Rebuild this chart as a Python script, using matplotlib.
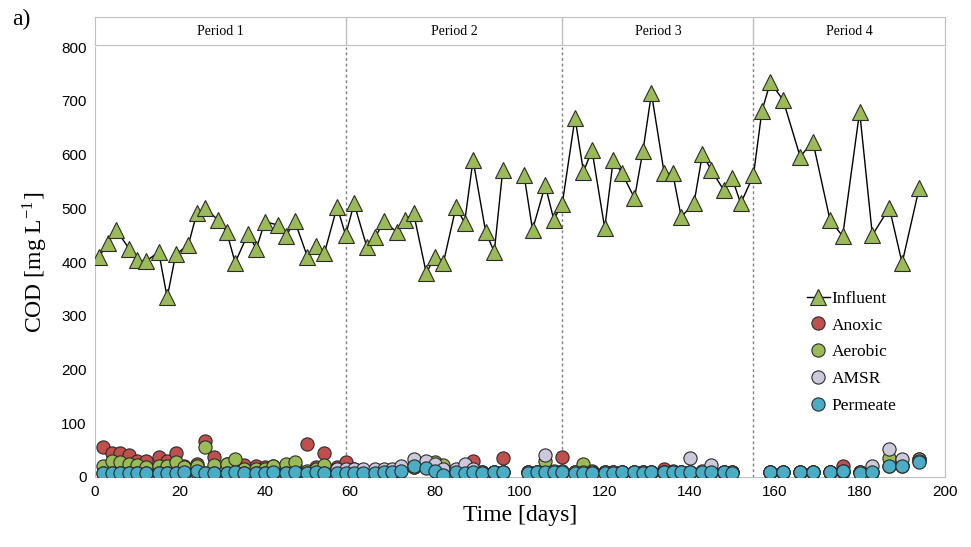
import matplotlib
matplotlib.use("Agg")
import matplotlib.pyplot as plt
import numpy as np

plt.rcParams.update({
    "font.family": "serif",
    "font.serif": ["Liberation Serif", "DejaVu Serif"],
    "mathtext.fontset": "stix",
})

# influent COD (triangles, connected; NaN = gap in line)
inf_days = [1, 3, 5, 8, 10, 12, 15, 17, 19, 22, 24, 26, 29, 31, 33, 36, 38, 40, 43, 45, 47, 50, 52, 54, 57, 59,
            61, 64, 66, 68, 71, 73, 75, 78, 80, 82, 85, 87, 89, 92, 94, 96, 98.5, 101, 103, 106, 108,
            110, 113, 115, 117, 120, 122, 124, 127, 129, 131, 134, 136, 138, 141, 143, 145, 148, 150, 152,
            155, 157, 159, 162, 166, 169, 173, 176, 180, 183, 187, 190, 194]
influent = [410, 435, 460, 425, 404, 401, 419, 334, 414, 432, 492, 500, 478, 456, 399, 452, 425, 475, 469, 448, 477, 410, 430, 416, 503, 450,
            509, 428, 446, 476, 456, 478, 491, 379, 410, 398, 503, 473, 590, 455, 419, 572, np.nan, 562, 460, 543, 479,
            508, 668, 568, 608, 463, 590, 566, 519, 607, 714, 565, 565, 484, 509, 601, 572, 534, 556, 509,
            561, 681, 735, 701, 596, 624, 479, 448, 680, 450, 501, 398, 537]

# low-concentration series share sampling days
low_days = [2, 4, 6, 8, 10, 12, 15, 17, 19, 21, 24, 26, 28, 31, 33, 35, 38, 40, 42, 45, 47, 50, 52, 54, 57, 59,
            61, 63, 66, 68, 70, 72, 75, 78, 80, 82, 85, 87, 89, 91, 94, 96, 102, 104, 106, 108,
            110, 113, 115, 117, 120, 122, 124, 127, 129, 131, 134, 136, 138, 140, 143, 145, 148, 150,
            159, 162, 166, 169, 173, 176, 180, 183, 187, 190, 194]
anoxic = [55, 45, 45, 41, 30, 30, 38, 30, 44, 20, 25, 67, 37, 25, 28, 22, 20, 18, 20, 18, 20, 61, 18, 44, 18, 27,
          15, 12, 12, 10, 10, 15, 18, 18, 15, 10, 10, 10, 30, 10, 10, 35, 10, 10, 10, 10,
          38, 10, 10, 10, 10, 10, 10, 10, 10, 10, 14, 12, 10, 10, 10, 12, 10, 10,
          10, 10, 10, 10, 10, 20, 10, 10, 20, 20, 33]
aerobic = [20, 30, 27, 24, 22, 18, 20, 20, 28, 18, 20, 55, 22, 25, 33, 15, 15, 15, 20, 25, 27, 12, 15, 22, 15, 12,
           10, 10, 12, 10, 10, 15, 18, 18, 28, 22, 12, 10, 10, 10, 10, 10, 10, 10, 30, 10,
           10, 10, 25, 12, 10, 10, 10, 10, 10, 10, 10, 10, 10, 10, 10, 10, 10, 10,
           10, 10, 10, 10, 10, 10, 10, 10, 35, 22, 33]
amsr = [8, 8, 8, 8, 8, 8, 8, 8, 8, 8, 8, 8, 8, 8, 8, 8, 8, 8, 8, 8, 8, 8, 8, 8, 15, 15,
        15, 15, 15, 15, 15, 20, 33, 30, 25, 15, 15, 25, 15, 10, 10, 10, 10, 10, 41, 12,
        12, 10, 10, 10, 10, 10, 10, 10, 10, 10, 10, 10, 10, 35, 12, 22, 10, 10,
        10, 10, 10, 10, 10, 12, 10, 20, 53, 33, 30]
permeate = [8, 8, 8, 7, 7, 7, 8, 8, 8, 9, 11, 8, 8, 8, 9, 8, 8, 7, 9, 8, 9, 8, 9, 8, 8, 8,
            8, 7, 8, 9, 9, 12, 20, 17, 12, 3, 9, 8, 9, 8, 9, 9, 8, 9, 10, 9,
            9, 8, 7, 8, 8, 8, 9, 9, 8, 9, 9, 9, 9, 9, 10, 10, 9, 8,
            9, 9, 9, 9, 9, 12, 7, 9, 20, 20, 28]

period_edges = [0, 59, 110, 155, 200]
period_names = ["Period 1", "Period 2", "Period 3", "Period 4"]

fig = plt.figure(figsize=(9.71, 5.47), dpi=100)
ax = fig.add_axes([0.0978, 0.128, 0.875, 0.786])
hx = fig.add_axes([0.0978, 0.9177, 0.875, 0.0512])

EDGE = "#2b2b2b"
ax.plot(inf_days, influent, color="black", linewidth=1.0, marker="^", markersize=11,
        markerfacecolor="#9bbb59", markeredgecolor=EDGE, markeredgewidth=0.8, label="Influent", zorder=3)
for vals, col, lab in [(anoxic, "#c0504d", "Anoxic"), (aerobic, "#9bbb59", "Aerobic"),
                       (amsr, "#ccc9dc", "AMSR"), (permeate, "#4bacc6", "Permeate")]:
    ax.plot(low_days, vals, linestyle="none", marker="o", markersize=9.5, markerfacecolor=col,
            markeredgecolor=EDGE, markeredgewidth=0.8, label=lab, zorder=4)

for e in period_edges[1:-1]:
    ax.axvline(e, color="#7f7f7f", linestyle=(0, (2, 2)), linewidth=1.0, zorder=1)
    hx.axvline(e, color="#bfbfbf", linewidth=1.0)

for i, name in enumerate(period_names):
    hx.text((period_edges[i] + period_edges[i + 1]) / 2, 0.5, name, ha="center", va="center", fontsize=10)
hx.set_xlim(0, 200)
hx.set_ylim(0, 1)
hx.set_xticks([])
hx.set_yticks([])
for s in hx.spines.values():
    s.set_color("#bfbfbf")

ax.set_xlim(0, 200)
ax.set_ylim(0, 800)
ax.set_xticks(np.arange(0, 201, 20))
ax.set_yticks(np.arange(0, 801, 100))
ax.tick_params(length=0, pad=6)
for lab in ax.get_xticklabels() + ax.get_yticklabels():
    lab.set_family("Liberation Sans")
    lab.set_fontsize(11)
for s in ax.spines.values():
    s.set_color("#bfbfbf")
ax.spines["top"].set_visible(False)

ax.set_xlabel("Time [days]", fontsize=17, labelpad=4)
ax.set_ylabel("COD [mg L$^{\\mathregular{-1}}$]", fontsize=17, labelpad=8)
ax.legend(loc="upper left", bbox_to_anchor=(0.83, 0.45), frameon=False, fontsize=12.5,
          handlelength=1.3, handletextpad=0.1, labelspacing=0.62, borderaxespad=0)
fig.text(0.012, 0.955, "a)", fontsize=17)

fig.savefig("out.png", dpi=100)
